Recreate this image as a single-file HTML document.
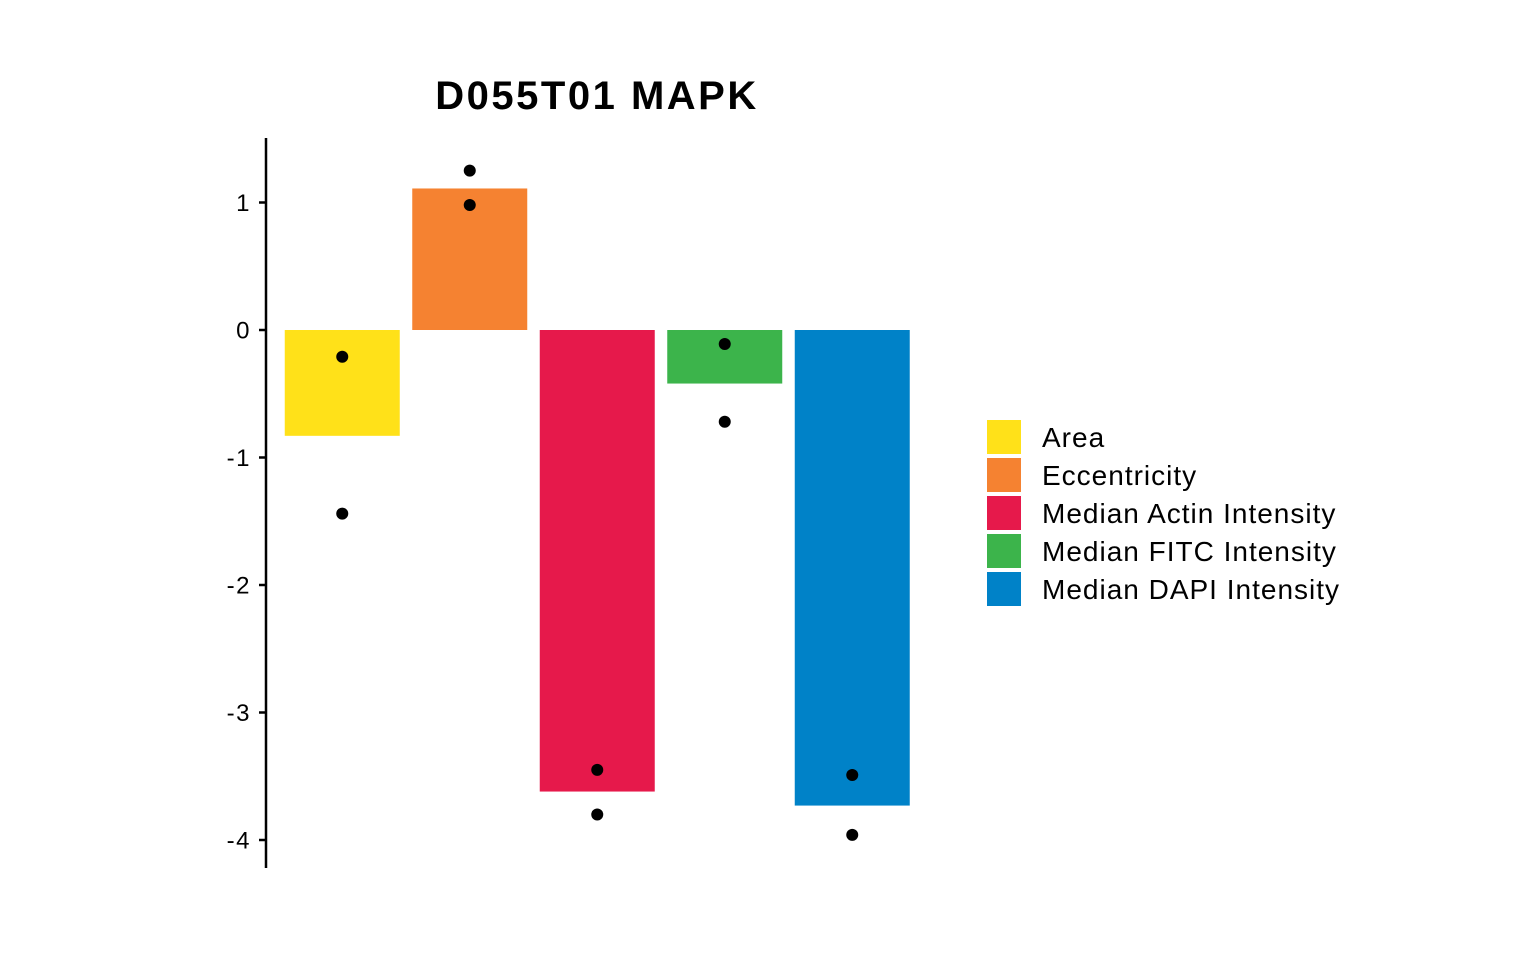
<!DOCTYPE html>
<html><head><meta charset="utf-8"><style>
html,body{margin:0;padding:0;background:#fff;width:1536px;height:960px;overflow:hidden}
text{font-family:"Liberation Sans",sans-serif}
</style></head><body>
<svg id="chart" width="1536" height="960" xmlns="http://www.w3.org/2000/svg"></svg>
<script>
const categories = ["Area","Eccentricity","Median Actin Intensity","Median FITC Intensity","Median DAPI Intensity"];
const barValues = [-0.83, 1.11, -3.62, -0.42, -3.73];
const pointsA = [-0.21, 1.25, -3.45, -0.11, -3.49];
const pointsB = [-1.44, 0.98, -3.80, -0.72, -3.96];
const colors = ["#FFE119","#F58231","#E6194B","#3CB44B","#0082C8"];
const yTicks = [1,0,-1,-2,-3,-4];

const NS="http://www.w3.org/2000/svg";
const svg=document.getElementById('chart');
function mk(tag,attrs,parent){const e=document.createElementNS(NS,tag);for(const k in attrs)e.setAttribute(k,attrs[k]);(parent||svg).appendChild(e);return e;}
const y=v=>330-v*127.5;
const band=127.5, x0=278.5;
const xc=i=>x0+band*(i+0.5);
const bw=115;

const title=mk('text',{x:597,y:109,'text-anchor':'middle','font-size':40,'font-weight':'bold',fill:'#000','letter-spacing':'2.5'});
title.textContent="D055T01 MAPK";



const axis=mk('line',{x1:266,x2:266,y1:138,y2:868,stroke:'#000','stroke-width':2.5});


yTicks.forEach(t=>{
  const tk=mk('line',{x1:259,x2:266,y1:y(t),y2:y(t),stroke:'#000','stroke-width':2.5});
  
  
  const lb=mk('text',{x:251,y:y(t)+8.5,'text-anchor':'end','font-size':24,fill:'#000','letter-spacing':'1.5'});
  lb.textContent=String(t);
  
  
});

barValues.forEach((v,i)=>{
  const r=mk('rect',{x:xc(i)-bw/2,y:Math.min(y(0),y(v)),width:bw,height:Math.abs(y(v)-y(0)),fill:colors[i]});
  
  
});
[pointsA,pointsB].forEach(arr=>arr.forEach((v,i)=>{
  const c=mk('circle',{cx:xc(i),cy:y(v),r:6,fill:'#000'});
  
  
}));

categories.forEach((c,i)=>{
  const g=mk('g',{});
  
  
  mk('rect',{x:987,y:420+i*38,width:34,height:34,fill:colors[i]},g);
  const t=mk('text',{x:1042,y:447+i*38,'font-size':28,fill:'#000','letter-spacing':'1'},g);
  t.textContent=c;
});
</script>
</body></html>
